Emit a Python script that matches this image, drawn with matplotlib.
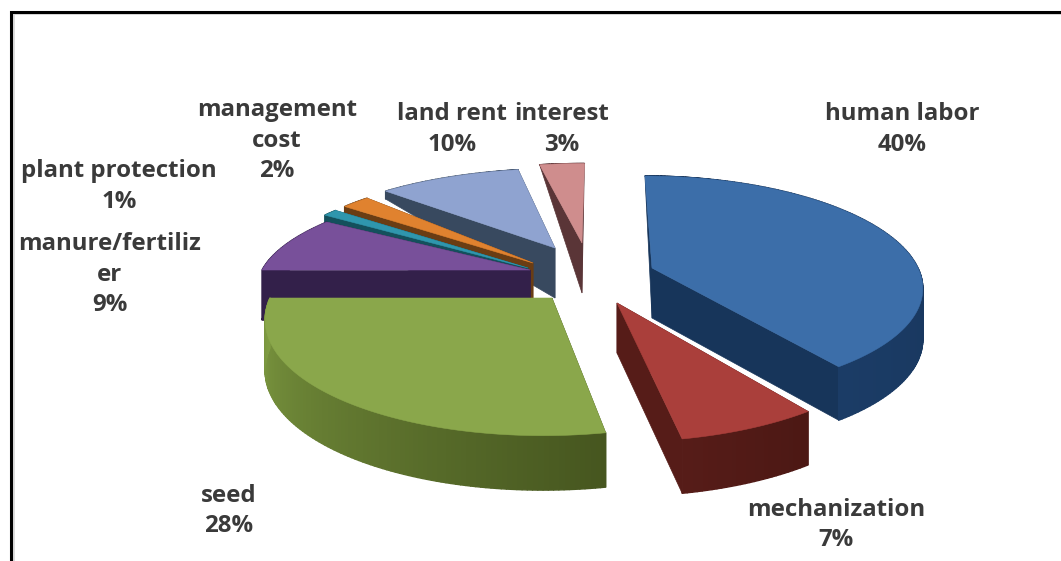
import numpy as np
import matplotlib
matplotlib.use("Agg")
import matplotlib.pyplot as plt
from matplotlib.collections import PolyCollection
from matplotlib.patches import Polygon

# ---- data ----
categories = ["human labor", "mechanization", "seed", "manure/fertiliz\ner",
              "plant protection", "management\ncost", "land rent", "interest"]
values = [40, 7, 28, 9, 1, 2, 10, 3]

# ---- styling ----
top_colors = ["#3c6ea9", "#aa3f3b", "#8aa74b", "#78509a", "#2f96ad", "#e0822f", "#8fa3d0", "#cf8d8d"]
face_colors = ["#17355a", "#561c18", "#4a5c26", "#33204a", "#14505c", "#6a3d14", "#38495f", "#5a3537"]
wall_start = ["#142e50", "#4c1814", "#46561f", "#33204a", "#14505c", "#6a3d14", "#38495f", "#5a3537"]
wall_end = ["#1b3c66", "#561c18", "#7f9c42", "#33204a", "#14505c", "#6a3d14", "#38495f", "#5a3537"]
apex_x = [652, 617, 552, 530, 528, 533, 555, 582]
apex_y = [268, 303, 298, 270, 268, 263, 248, 243]
rx_per = [266, 280, 282, 268, 268, 262, 264, 276]
ry_per = [106.5, 117, 116, 97, 107, 105, 92, 92]
draw_order = [7, 6, 5, 4, 3, 2, 0, 1]
DIST, VX, DEPTH = 6.36, 600.0, 50.0
label_xy = [(902, 114), (836, 510), (229, 496), (110, 244),
            (119, 171), (277, 110), (452, 114), (562, 114)]
LINE_PX = 30.5
TEXT = "#3a3a3a"

W, H = 1061, 561
fig = plt.figure(figsize=(W / 100, H / 100), dpi=100, facecolor="white")
ax = fig.add_axes([0, 0, 1, 1])
ax.set_xlim(0, W)
ax.set_ylim(H, 0)
ax.axis("off")


def project(i, theta, low=False):
    X, Y = np.sin(theta), np.cos(theta)
    s = DIST / (DIST + Y)
    x = VX + (apex_x[i] - VX + rx_per[i] * X) * s
    y = apex_y[i] - ry_per[i] * Y * s
    if low:
        y = y + DEPTH * (1 - np.clip(Y, 0, 1)) ** 1.6 * np.maximum(s, 1) ** 0.5
    return x, y


def rgb(c):
    return np.array(matplotlib.colors.to_rgb(c))


total = sum(values)
edges = np.concatenate([[0], np.cumsum(values)]) / total * 2 * np.pi

for i in draw_order:
    a0, a1 = edges[i], edges[i + 1]
    th = np.linspace(a0, a1, max(int(values[i] * 4), 8) + 1)
    z = 2 + draw_order.index(i)

    # straight cut faces
    for a in (a0, a1):
        tx, ty = project(i, a)
        bx, by = project(i, a, low=True)
        ax.add_patch(Polygon([(apex_x[i], apex_y[i]), (tx, ty), (bx, by),
                              (apex_x[i], apex_y[i] + DEPTH)],
                             closed=True, fc=face_colors[i], ec=face_colors[i], lw=0.5, zorder=z))

    # outer wall with a shade running along the arc
    tx, ty = project(i, th)
    bx, by = project(i, th, low=True)
    quads = [[(tx[k], ty[k]), (tx[k + 1], ty[k + 1]), (bx[k + 1], by[k + 1]), (bx[k], by[k])]
             for k in range(len(th) - 1)]
    mix = np.linspace(0, 1, len(quads))[:, None]
    cols = rgb(wall_start[i]) * (1 - mix) + rgb(wall_end[i]) * mix
    ax.add_collection(PolyCollection(quads, facecolors=cols, edgecolors=cols, linewidths=1.0, zorder=z))

    # top face
    pts = [(apex_x[i], apex_y[i])] + list(zip(tx, ty))
    ax.add_patch(Polygon(pts, closed=True, fc=top_colors[i], ec=top_colors[i], lw=0.4, zorder=z + 0.5))

# labels
for name, v, (lx, ly) in zip(categories, values, label_xy):
    lines = name.split("\n") + [f"{v}%"]
    for k, line in enumerate(lines):
        ax.text(lx, ly + k * LINE_PX, line, ha="center", va="center", family="Open Sans",
                weight="bold", fontsize=17.3, color=TEXT, zorder=30)

# frame: top and left rules only, each with a soft grey inner edge
ax.plot([14, 14, W], [H, 14, 14], color="#dcdcdc", lw=1.4, solid_joinstyle="miter", zorder=39)
ax.plot([10.5, 10.5, W], [H, 11.5, 11.5], color="black", lw=2.2,
        solid_joinstyle="miter", zorder=40, clip_on=False)

fig.savefig("out.png", dpi=100)
